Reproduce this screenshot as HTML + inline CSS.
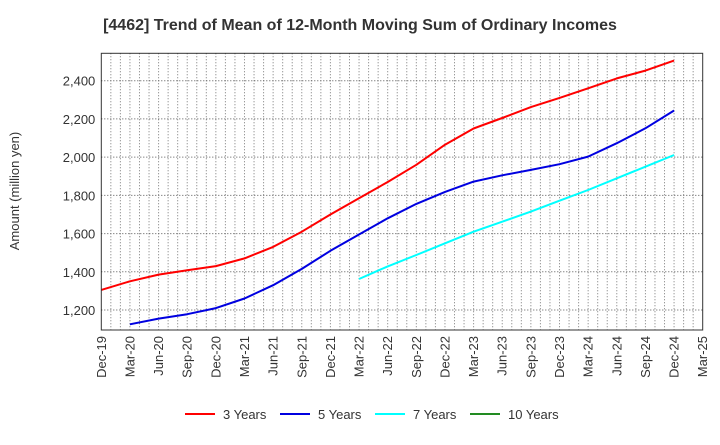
<!DOCTYPE html>
<html><head><meta charset="utf-8"><style>
body{margin:0;background:#fff;font-family:"Liberation Sans",sans-serif;}
</style></head><body>
<svg width="720" height="440" xmlns="http://www.w3.org/2000/svg" font-family="Liberation Sans, sans-serif">
<text x="360" y="30" text-anchor="middle" font-size="16" font-weight="bold" fill="#333">[4462]  Trend of Mean of 12-Month Moving Sum of Ordinary Incomes</text>
<text transform="translate(19,191) rotate(-90)" text-anchor="middle" font-size="13" fill="#333">Amount (million yen)</text>
<g id="grid"></g><g id="series"></g><g id="axes"></g>
<g id="legend"></g>
</svg>
<script>
const xLabels=["Dec-19","Mar-20","Jun-20","Sep-20","Dec-20","Mar-21","Jun-21","Sep-21","Dec-21","Mar-22","Jun-22","Sep-22","Dec-22","Mar-23","Jun-23","Sep-23","Dec-23","Mar-24","Jun-24","Sep-24","Dec-24","Mar-25"];
const yTicks=[1200,1400,1600,1800,2000,2200,2400];
const y3=[1305,1350,1385,1408,1430,1470,1530,1610,1700,1785,1870,1960,2065,2150,2205,2262,2310,2360,2412,2453,2505];
const y5=[null,1125,1155,1178,1210,1260,1330,1415,1510,1595,1680,1755,1818,1872,1905,1933,1963,2003,2073,2151,2244];
const y7=[null,null,null,null,null,null,null,null,null,1362,1428,1488,1549,1610,1662,1715,1772,1828,1889,1950,2011];
const y10=[];
const L=101.3,R=702.7,T=53.3,B=330;
const xs=q=>L+q*(R-L)/21;
const ys=v=>310-(v-1200)*(310-80.7)/1200;
const NS="http://www.w3.org/2000/svg";
function mk(t,a,p){const e=document.createElementNS(NS,t);for(const k in a)e.setAttribute(k,a[k]);p.appendChild(e);return e;}
const grid=document.getElementById('grid'),axes=document.getElementById('axes'),ser=document.getElementById('series'),leg=document.getElementById('legend');
for(let m=1;m<63;m++){const x=L+m*(R-L)/63;const l=mk('line',{x1:x,x2:x,y1:T,y2:B,stroke:'#777','stroke-dasharray':'1,2','stroke-width':1},grid);

}
yTicks.forEach(v=>{const y=ys(v);const l=mk('line',{x1:L,x2:R,y1:y,y2:y,stroke:'#555','stroke-dasharray':'1,2','stroke-width':1},grid);


const t=mk('text',{x:L-6,y:y+5,'text-anchor':'end','font-size':13,fill:'#333'},axes);t.textContent=v.toLocaleString('en-US');

});
const fr=mk('rect',{x:L,y:T,width:R-L,height:B-T,fill:'none',stroke:'#333','stroke-width':1},axes);


xLabels.forEach((s,i)=>{const x=xs(i);const t=mk('text',{transform:`translate(${x+4.5},${B+6}) rotate(-90)`,'text-anchor':'end','font-size':13,fill:'#333'},axes);t.textContent=s;

});
function line(arr,c,n){let d='';arr.forEach((v,i)=>{if(v==null)return;d+=(d?'L':'M')+xs(i).toFixed(1)+','+ys(v).toFixed(1);});
if(!d)return;const p=mk('path',{d:d,fill:'none',stroke:c,'stroke-width':2,'stroke-linejoin':'round'},ser);

}
line(y3,'#ff0000','line-3-years');line(y5,'#0000e0','line-5-years');line(y7,'#00ffff','line-7-years');line(y10,'#228b22','line-10-years');
[['3 Years','#ff0000',185],['5 Years','#0000e0',280],['7 Years','#00ffff',375],['10 Years','#228b22',470]].forEach(([s,c,x])=>{
const g=mk('g',{},leg);


mk('line',{x1:x,x2:x+30,y1:414,y2:414,stroke:c,'stroke-width':2},g);
const t=mk('text',{x:x+38,y:419,'font-size':13,fill:'#333'},g);t.textContent=s;});
</script>
</body></html>
